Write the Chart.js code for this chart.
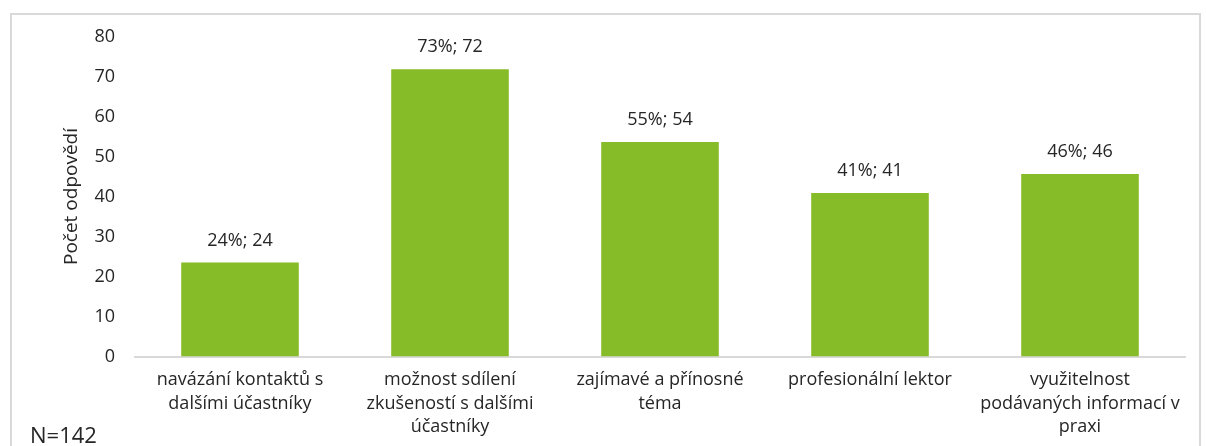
<!DOCTYPE html>
<html>
<head>
<meta charset="utf-8">
<script src="https://cdn.jsdelivr.net/npm/chart.js@4"></script>
<style>
  html, body { margin: 0; padding: 0; background: #fff; overflow: hidden; }
  #frame {
    position: absolute; left: 10px; top: 13px; width: 1191px; height: 460px;
    border: 2px solid #d9d9d9; box-sizing: border-box;
  }
  #wrap { position: absolute; left: 0; top: 0; width: 1206px; height: 446px; }
  #note {
    position: absolute; left: 30px; top: 419px; line-height: 30px;
    font: 22px "Open Sans", sans-serif; color: #262626;
  }
</style>
</head>
<body>
<div id="frame"></div>
<div id="wrap"><canvas id="chart"></canvas></div>
<div id="note">N=142</div>
<script>
const categories = [
  ["navázání kontaktů s", "dalšími účastníky"],
  ["možnost sdílení", "zkušeností s dalšími", "účastníky"],
  ["zajímavé a přínosné", "téma"],
  ["profesionální lektor"],
  ["využitelnost", "podávaných informací v", "praxi"]
];
const values = [23.5, 71.8, 53.6, 40.9, 45.6];
const percents = [24, 73, 55, 41, 46];
const counts = [24, 72, 54, 41, 46];

const textColor = "#262626";
const fontFamily = "'Open Sans', sans-serif";

// labels above each bar, e.g. "24%; 24"
const barLabels = {
  id: "barLabels",
  afterDatasetsDraw(chart) {
    const ctx = chart.ctx;
    const meta = chart.getDatasetMeta(0);
    ctx.save();
    ctx.font = "18px " + fontFamily;
    ctx.fillStyle = textColor;
    ctx.textAlign = "center";
    ctx.textBaseline = "middle";
    meta.data.forEach((bar, i) => {
      ctx.fillText(percents[i] + "%; " + counts[i], bar.x, bar.y - 22);
    });
    ctx.restore();
  }
};

new Chart(document.getElementById("chart"), {
  type: "bar",
  plugins: [barLabels],
  data: {
    labels: categories,
    datasets: [{
      data: values,
      backgroundColor: "#86bc27",
      categoryPercentage: 1,
      barPercentage: 0.56
    }]
  },
  options: {
    responsive: true,
    maintainAspectRatio: false,
    animation: false,
    layout: { padding: { left: 60, right: 21, top: 36.5, bottom: 0 } },
    plugins: { legend: { display: false }, tooltip: { enabled: false } },
    scales: {
      x: {
        grid: { display: false, drawTicks: false },
        border: { color: "#d9d9d9", width: 2 },
        ticks: {
          color: textColor,
          font: { family: fontFamily, size: 18, lineHeight: 1.3 },
          padding: 12,
          maxRotation: 0,
          autoSkip: false
        },
        afterFit(scale) { scale.height = 89.5; }
      },
      y: {
        min: 0,
        max: 80,
        grid: { display: false, drawTicks: false },
        border: { display: false },
        ticks: {
          stepSize: 10,
          color: textColor,
          font: { family: fontFamily, size: 18 },
          padding: 20
        },
        title: {
          display: true,
          text: "Počet odpovědí",
          color: textColor,
          font: { family: fontFamily, size: 19 },
          padding: 0
        },
        afterFit(scale) { scale.width = 75; }
      }
    }
  }
});
</script>
</body>
</html>
